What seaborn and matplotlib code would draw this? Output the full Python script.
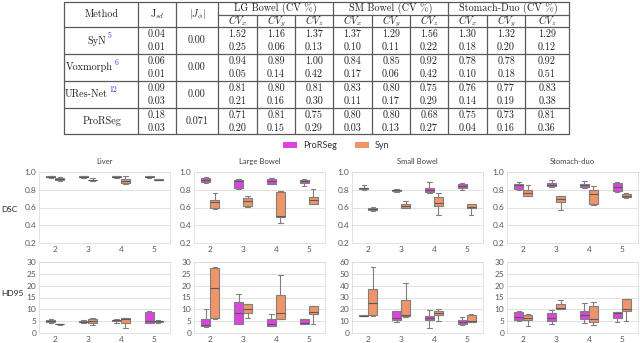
import numpy as np
import pandas as pd
import matplotlib
matplotlib.use('Agg')
import matplotlib.pyplot as plt
from matplotlib.patches import Patch
import seaborn as sns

# ---- table values ----
methods = ['SyN', 'Voxmorph', 'URes-Net', 'ProRSeg']
refs = ['5', '6', '12', '']
jsd_mean = [0.04, 0.06, 0.09, 0.18]
jsd_std = [0.01, 0.01, 0.03, 0.03]
jphi = ['0.00', '0.00', '0.00', '0.071']
organ_heads = ['LG Bowel (CV %)', 'SM Bowel (CV %)', 'Stomach-Duo (CV %)']
cv_heads = [r'$CV_x$', r'$CV_y$', r'$CV_z$']
cv_mean = [[1.52, 1.16, 1.37, 1.37, 1.29, 1.56, 1.30, 1.32, 1.29],
           [0.94, 0.89, 1.00, 0.84, 0.85, 0.92, 0.78, 0.78, 0.92],
           [0.81, 0.80, 0.81, 0.83, 0.80, 0.75, 0.76, 0.77, 0.83],
           [0.71, 0.81, 0.75, 0.80, 0.80, 0.68, 0.75, 0.73, 0.81]]
cv_std = [[0.25, 0.06, 0.13, 0.10, 0.11, 0.22, 0.18, 0.20, 0.12],
          [0.05, 0.14, 0.42, 0.17, 0.06, 0.42, 0.10, 0.18, 0.51],
          [0.21, 0.16, 0.30, 0.11, 0.17, 0.29, 0.14, 0.19, 0.38],
          [0.20, 0.15, 0.29, 0.03, 0.13, 0.27, 0.04, 0.16, 0.36]]

# ---- box plot values: [min, q1, median, q3, max] for groups 2..5 ----
groups = [2, 3, 4, 5]
organs = ['Liver', 'Large Bowel', 'Small Bowel', 'Stomach-duo']
hue_order = ['ProRSeg', 'Syn']

liver_dsc_prorseg = [[0.935, 0.94, 0.945, 0.95, 0.955], [0.935, 0.94, 0.945, 0.95, 0.955],
                     [0.935, 0.94, 0.945, 0.95, 0.955], [0.935, 0.94, 0.945, 0.95, 0.955]]
liver_dsc_syn = [[0.90, 0.91, 0.92, 0.93, 0.94], [0.90, 0.905, 0.91, 0.915, 0.935],
                 [0.87, 0.88, 0.90, 0.92, 0.95], [0.905, 0.91, 0.915, 0.92, 0.925]]
lgb_dsc_prorseg = [[0.88, 0.89, 0.91, 0.93, 0.94], [0.81, 0.82, 0.90, 0.91, 0.92],
                   [0.86, 0.865, 0.90, 0.92, 0.93], [0.84, 0.88, 0.895, 0.905, 0.925]]
lgb_dsc_syn = [[0.58, 0.59, 0.665, 0.69, 0.765], [0.61, 0.62, 0.675, 0.71, 0.725],
               [0.43, 0.49, 0.50, 0.77, 0.79], [0.64, 0.645, 0.69, 0.72, 0.81]]
smb_dsc_prorseg = [[0.80, 0.805, 0.815, 0.825, 0.85], [0.78, 0.79, 0.795, 0.80, 0.805],
                   [0.76, 0.77, 0.80, 0.82, 0.885], [0.80, 0.815, 0.84, 0.87, 0.88]]
smb_dsc_syn = [[0.56, 0.57, 0.585, 0.60, 0.605], [0.59, 0.595, 0.615, 0.635, 0.67],
               [0.51, 0.615, 0.65, 0.72, 0.765], [0.52, 0.59, 0.61, 0.64, 0.645]]
sto_dsc_prorseg = [[0.80, 0.805, 0.85, 0.87, 0.885], [0.835, 0.84, 0.855, 0.875, 0.91],
                   [0.825, 0.83, 0.85, 0.865, 0.895], [0.78, 0.785, 0.835, 0.88, 0.885]]
sto_dsc_syn = [[0.725, 0.73, 0.76, 0.795, 0.855], [0.575, 0.665, 0.695, 0.725, 0.73],
               [0.625, 0.635, 0.755, 0.795, 0.845], [0.71, 0.715, 0.735, 0.75, 0.765]]

liver_hd_prorseg = [[4.4, 4.5, 5.0, 5.5, 6.0], [4.2, 4.5, 4.8, 5.1, 5.4],
                    [4.2, 5.0, 5.3, 5.7, 6.0], [4.2, 4.4, 5.2, 8.7, 9.3]]
liver_hd_syn = [[3.5, 3.7, 3.8, 3.9, 4.0], [3.3, 4.3, 5.2, 6.1, 6.3],
                [2.3, 4.2, 5.8, 6.2, 6.3], [4.3, 4.5, 4.9, 5.2, 5.5]]
lgb_hd_prorseg = [[2.6, 3.0, 3.3, 6.0, 10.0], [3.6, 3.8, 8.3, 13.2, 16.5],
                  [2.8, 2.9, 4.0, 6.0, 8.0], [3.8, 4.0, 4.2, 5.8, 6.0]]
lgb_hd_syn = [[6.0, 6.2, 19.0, 27.5, 27.8], [6.5, 8.5, 10.0, 12.2, 12.3],
              [5.8, 6.0, 8.5, 16.0, 24.5], [4.0, 8.0, 8.8, 11.5, 11.6]]
smb_hd_prorseg = [[14.0, 14.3, 14.6, 14.9, 15.2], [9.0, 10.8, 12.5, 18.5, 18.7],
                  [4.6, 10.8, 12.3, 14.5, 19.5], [7.0, 7.3, 9.0, 11.3, 13.5]]
smb_hd_syn = [[14.2, 15.0, 25.0, 37.2, 56.0], [13.8, 14.2, 14.8, 28.0, 42.5],
              [10.5, 15.0, 16.5, 18.5, 20.0], [9.0, 9.5, 10.5, 15.5, 16.0]]
sto_hd_prorseg = [[5.0, 5.4, 6.8, 9.0, 9.1], [3.7, 5.0, 6.5, 8.3, 9.7],
                  [4.3, 5.9, 7.4, 9.2, 12.5], [4.6, 6.4, 8.4, 8.7, 8.9]]
sto_hd_syn = [[2.9, 5.7, 6.2, 7.7, 7.9], [10.0, 10.1, 10.5, 12.2, 13.8],
              [3.3, 4.8, 5.9, 11.5, 13.0], [5.0, 9.4, 10.0, 14.3, 14.4]]

boxes = {
    ('Liver', 'DSC', 'ProRSeg'): liver_dsc_prorseg, ('Liver', 'DSC', 'Syn'): liver_dsc_syn,
    ('Large Bowel', 'DSC', 'ProRSeg'): lgb_dsc_prorseg, ('Large Bowel', 'DSC', 'Syn'): lgb_dsc_syn,
    ('Small Bowel', 'DSC', 'ProRSeg'): smb_dsc_prorseg, ('Small Bowel', 'DSC', 'Syn'): smb_dsc_syn,
    ('Stomach-duo', 'DSC', 'ProRSeg'): sto_dsc_prorseg, ('Stomach-duo', 'DSC', 'Syn'): sto_dsc_syn,
    ('Liver', 'HD95', 'ProRSeg'): liver_hd_prorseg, ('Liver', 'HD95', 'Syn'): liver_hd_syn,
    ('Large Bowel', 'HD95', 'ProRSeg'): lgb_hd_prorseg, ('Large Bowel', 'HD95', 'Syn'): lgb_hd_syn,
    ('Small Bowel', 'HD95', 'ProRSeg'): smb_hd_prorseg, ('Small Bowel', 'HD95', 'Syn'): smb_hd_syn,
    ('Stomach-duo', 'HD95', 'ProRSeg'): sto_hd_prorseg, ('Stomach-duo', 'HD95', 'Syn'): sto_hd_syn,
}

rows = []
for (organ, metric, method), stats in boxes.items():
    for g, vals in zip(groups, stats):
        for v in vals:
            rows.append((organ, metric, method, g, v))
df = pd.DataFrame(rows, columns=['organ', 'metric', 'method', 'group', 'value'])

palette = {'ProRSeg': '#DD44DD', 'Syn': '#F0956A'}

sns.set_theme(style='white')
plt.rcParams['font.family'] = ['Lato', 'DejaVu Sans']
plt.rcParams['mathtext.fontset'] = 'cm'

W, H = 640, 343
fig = plt.figure(figsize=(6.4, 3.43), dpi=100)

# ---- table drawn in pixel coordinates ----
tab = fig.add_axes([0, 0, 1, 1])
tab.set_xlim(0, W)
tab.set_ylim(H, 0)
tab.axis('off')

xs = [64, 138, 176, 218, 257, 295, 333, 372, 410, 448, 487, 525, 569]
ys = [2, 15, 27, 54, 81, 108, 134]
lc = '#5a5a5a'
lw = 0.9
for y in [2, 27, 54, 81, 108, 134]:
    tab.plot([xs[0], xs[-1]], [y, y], color=lc, lw=lw)
tab.plot([xs[3], xs[-1]], [15, 15], color=lc, lw=lw)
for i, x in enumerate(xs):
    if i in (0, 1, 2, 3, 6, 9, 12):
        tab.plot([x, x], [2, 134], color=lc, lw=lw)
    else:
        tab.plot([x, x], [15, 134], color=lc, lw=lw)

tf = dict(fontfamily='cmr10', fontsize=7.3, color='#222222', ha='center', va='center')
tab.text((xs[0] + xs[1]) / 2 + 1, 14.5, 'Method', **tf)
tab.text((xs[1] + xs[2]) / 2, 14.5, r'J$_{sd}$', **tf)
tab.text((xs[2] + xs[3]) / 2, 14.5, r'$|J_\phi|$', **tf)
for k, head in enumerate(organ_heads):
    tab.text((xs[3 + 3 * k] + xs[6 + 3 * k]) / 2, 8.5, head, **tf)
    for j, ch in enumerate(cv_heads):
        c = 3 + 3 * k + j
        tab.text((xs[c] + xs[c + 1]) / 2, 21, ch, **tf)

name_end = [106, 113, 108, 121]
for r, m in enumerate(methods):
    y0 = ys[2 + r]
    y1 = ys[3 + r]
    ym = (y0 + y1) / 2
    if refs[r]:
        tab.text(name_end[r], ym, m, **{**tf, 'ha': 'right'})
        tab.text(name_end[r] + 1.5, ym - 4.5, refs[r], fontfamily='cmr10', fontsize=5.5,
                 color='#2a2aff', ha='left', va='center')
    else:
        tab.text((xs[0] + xs[1]) / 2 + 1, ym, m, **tf)
    tab.text((xs[1] + xs[2]) / 2, y0 + 7, f'{jsd_mean[r]:.2f}', **tf)
    tab.text((xs[1] + xs[2]) / 2, y0 + 20, f'{jsd_std[r]:.2f}', **tf)
    tab.text((xs[2] + xs[3]) / 2, ym, jphi[r], **tf)
    for c in range(9):
        xc = (xs[3 + c] + xs[4 + c]) / 2
        tab.text(xc, y0 + 7, f'{cv_mean[r][c]:.2f}', **tf)
        tab.text(xc, y0 + 20, f'{cv_std[r][c]:.2f}', **tf)

# ---- box plots ----
lefts = [39, 194, 352, 507]
aw = 131
rows_px = {'DSC': (172, 243), 'HD95': (262, 333)}
ylims = {'DSC': {o: (0.2, 1.0) for o in organs},
         'HD95': {'Liver': (0, 30), 'Large Bowel': (0, 30), 'Small Bowel': (0, 60), 'Stomach-duo': (0, 30)}}
tick_color = '#595959'

for metric, (top, bot) in rows_px.items():
    for organ, lx in zip(organs, lefts):
        ax = fig.add_axes([lx / W, 1 - bot / H, aw / W, (bot - top) / H])
        sub = df[(df.organ == organ) & (df.metric == metric)]
        sns.boxplot(data=sub, x='group', y='value', hue='method', order=groups,
                    hue_order=hue_order, palette=palette, whis=np.inf, width=0.55,
                    linecolor='#7f7f7f', linewidth=0.8, saturation=1, legend=False,
                    medianprops=dict(color='#5a5a5a', linewidth=0.8), ax=ax)
        lo, hi = ylims[metric][organ]
        ax.set_ylim(lo, hi)
        if metric == 'DSC':
            ax.set_yticks(np.arange(0.2, 1.01, 0.2))
            ax.set_yticklabels([f'{t:.1f}' for t in np.arange(0.2, 1.01, 0.2)])
            ax.set_title(organ, fontsize=5.5, color='#404040', pad=6)
        else:
            step = 10 if hi == 60 else 5
            ax.set_yticks(np.arange(lo, hi + 0.1, step))
        ax.set_xlabel('')
        ax.set_ylabel('')
        ax.grid(axis='y', color='#dddddd', linewidth=0.6)
        ax.set_axisbelow(True)
        for s in ax.spines.values():
            s.set_color('#dddddd')
            s.set_linewidth(0.6)
        ax.tick_params(axis='both', length=0, labelsize=6, colors=tick_color, pad=2)

fig.text(1 / W, 1 - 209 / H, 'DSC', fontsize=6, color='#222222', ha='left', va='center')
fig.text(1 / W, 1 - 294 / H, 'HD95', fontsize=6, color='#222222', ha='left', va='center')

handles = [Patch(facecolor=palette[m], edgecolor='none') for m in hue_order]
fig.legend(handles, hue_order, loc='center', bbox_to_anchor=(336 / W, 1 - 146 / H), ncol=2,
           frameon=False, fontsize=6.5, handlelength=1.6, handleheight=0.7,
           columnspacing=2.0, handletextpad=0.6, labelcolor='#333333')

fig.savefig('out.png', dpi=100)
